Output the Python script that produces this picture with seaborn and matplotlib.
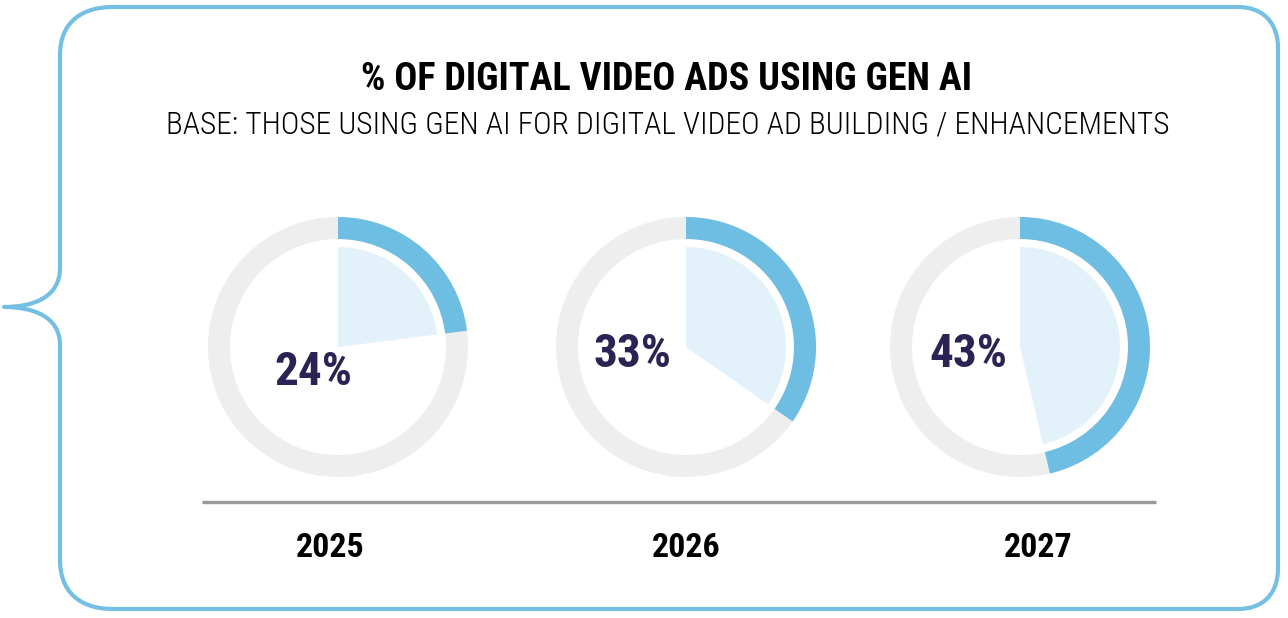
import matplotlib
matplotlib.use("Agg")
import matplotlib.pyplot as plt
from matplotlib.path import Path
from matplotlib.patches import PathPatch
import seaborn as sns

# ---- data ----
years = ["2025", "2026", "2027"]
pct_labels = ["24%", "33%", "43%"]
# arc extents as drawn in the picture (percent of the full circle)
arc_shares = [23.0, 34.7, 46.3]
title = "% OF DIGITAL VIDEO ADS USING GEN AI"
subtitle = "BASE: THOSE USING GEN AI FOR DIGITAL VIDEO AD BUILDING / ENHANCEMENTS"

# ---- style ----
sns.set_theme(style="white")
FAM = ["Roboto Condensed", "IBM Plex Sans Condensed", "Roboto", "DejaVu Sans"]
plt.rcParams["font.family"] = FAM

BLUE = "#6ebde3"
LIGHT = "#e3f1fa"
GRAY = "#eeeeee"
NAVY = "#2a2454"
BORDER = "#74bfe4"

W, H = 1288, 618
fig = plt.figure(figsize=(W / 100, H / 100), dpi=100)
fig.patch.set_facecolor("white")

bg = fig.add_axes([0, 0, 1, 1])
bg.set_xlim(0, W)
bg.set_ylim(H, 0)
bg.axis("off")

# speech-bubble border
verts = [
    (113, 7), (1238, 7),
    (1262, 7), (1278, 22), (1278, 48),
    (1278, 568),
    (1278, 595), (1262, 609), (1238, 609),
    (113, 609),
    (80, 609), (60, 592), (60, 560),
    (60, 345),
    (60, 316), (32, 307), (4, 307),
    (32, 307), (60, 298), (60, 268),
    (60, 55),
    (60, 22), (82, 7), (113, 7),
]
codes = [Path.MOVETO, Path.LINETO,
         Path.CURVE4, Path.CURVE4, Path.CURVE4,
         Path.LINETO,
         Path.CURVE4, Path.CURVE4, Path.CURVE4,
         Path.LINETO,
         Path.CURVE4, Path.CURVE4, Path.CURVE4,
         Path.LINETO,
         Path.CURVE4, Path.CURVE4, Path.CURVE4,
         Path.CURVE4, Path.CURVE4, Path.CURVE4,
         Path.LINETO,
         Path.CURVE4, Path.CURVE4, Path.CURVE4]
bg.add_patch(PathPatch(Path(verts, codes), facecolor="none", edgecolor=BORDER,
                       lw=3.0, joinstyle="round", capstyle="round"))

bg.text(667, 90, title, ha="center", va="baseline", fontsize=27.5,
        fontweight="bold", color="black")
bg.text(668, 133, subtitle, ha="center", va="baseline", fontsize=22.6,
        fontweight=300, color="black")

# baseline
bg.plot([202, 1156], [502, 502], color="#999999", lw=2.4, solid_capstyle="butt")

centers_x = [338, 686, 1020]
year_x = [330, 686, 1038]
label_pos = [(313, 385), (633, 367), (968, 367)]
R = 130

for cx, yr, yx, v, lab, (lx, ly) in zip(centers_x, years, year_x, arc_shares,
                                       pct_labels, label_pos):
    ax = fig.add_axes([(cx - R) / W, 1 - (347 + R) / H, 2 * R / W, 2 * R / H])
    frac = v / 100
    ring_w = 22 / R
    ax.pie([1], radius=1, colors=[GRAY], wedgeprops=dict(width=ring_w, lw=0))
    ax.pie([frac, 1 - frac], radius=1, startangle=90, counterclock=False,
           colors=[BLUE, "none"], wedgeprops=dict(width=ring_w, lw=0))
    ax.pie([frac, 1 - frac], radius=100 / R, startangle=90, counterclock=False,
           colors=[LIGHT, "none"], wedgeprops=dict(lw=0))
    ax.set_xlim(-1, 1)
    ax.set_ylim(-1, 1)
    ax.set_aspect("equal")
    ax.axis("off")

    bg.text(lx, ly, lab, ha="center", va="baseline", fontsize=34,
            fontweight="bold", color=NAVY, zorder=5)
    bg.text(yx, 557, yr, ha="center", va="baseline", fontsize=24.5,
            fontweight="bold", color="black")

fig.savefig("out.png", dpi=100, facecolor="white")
